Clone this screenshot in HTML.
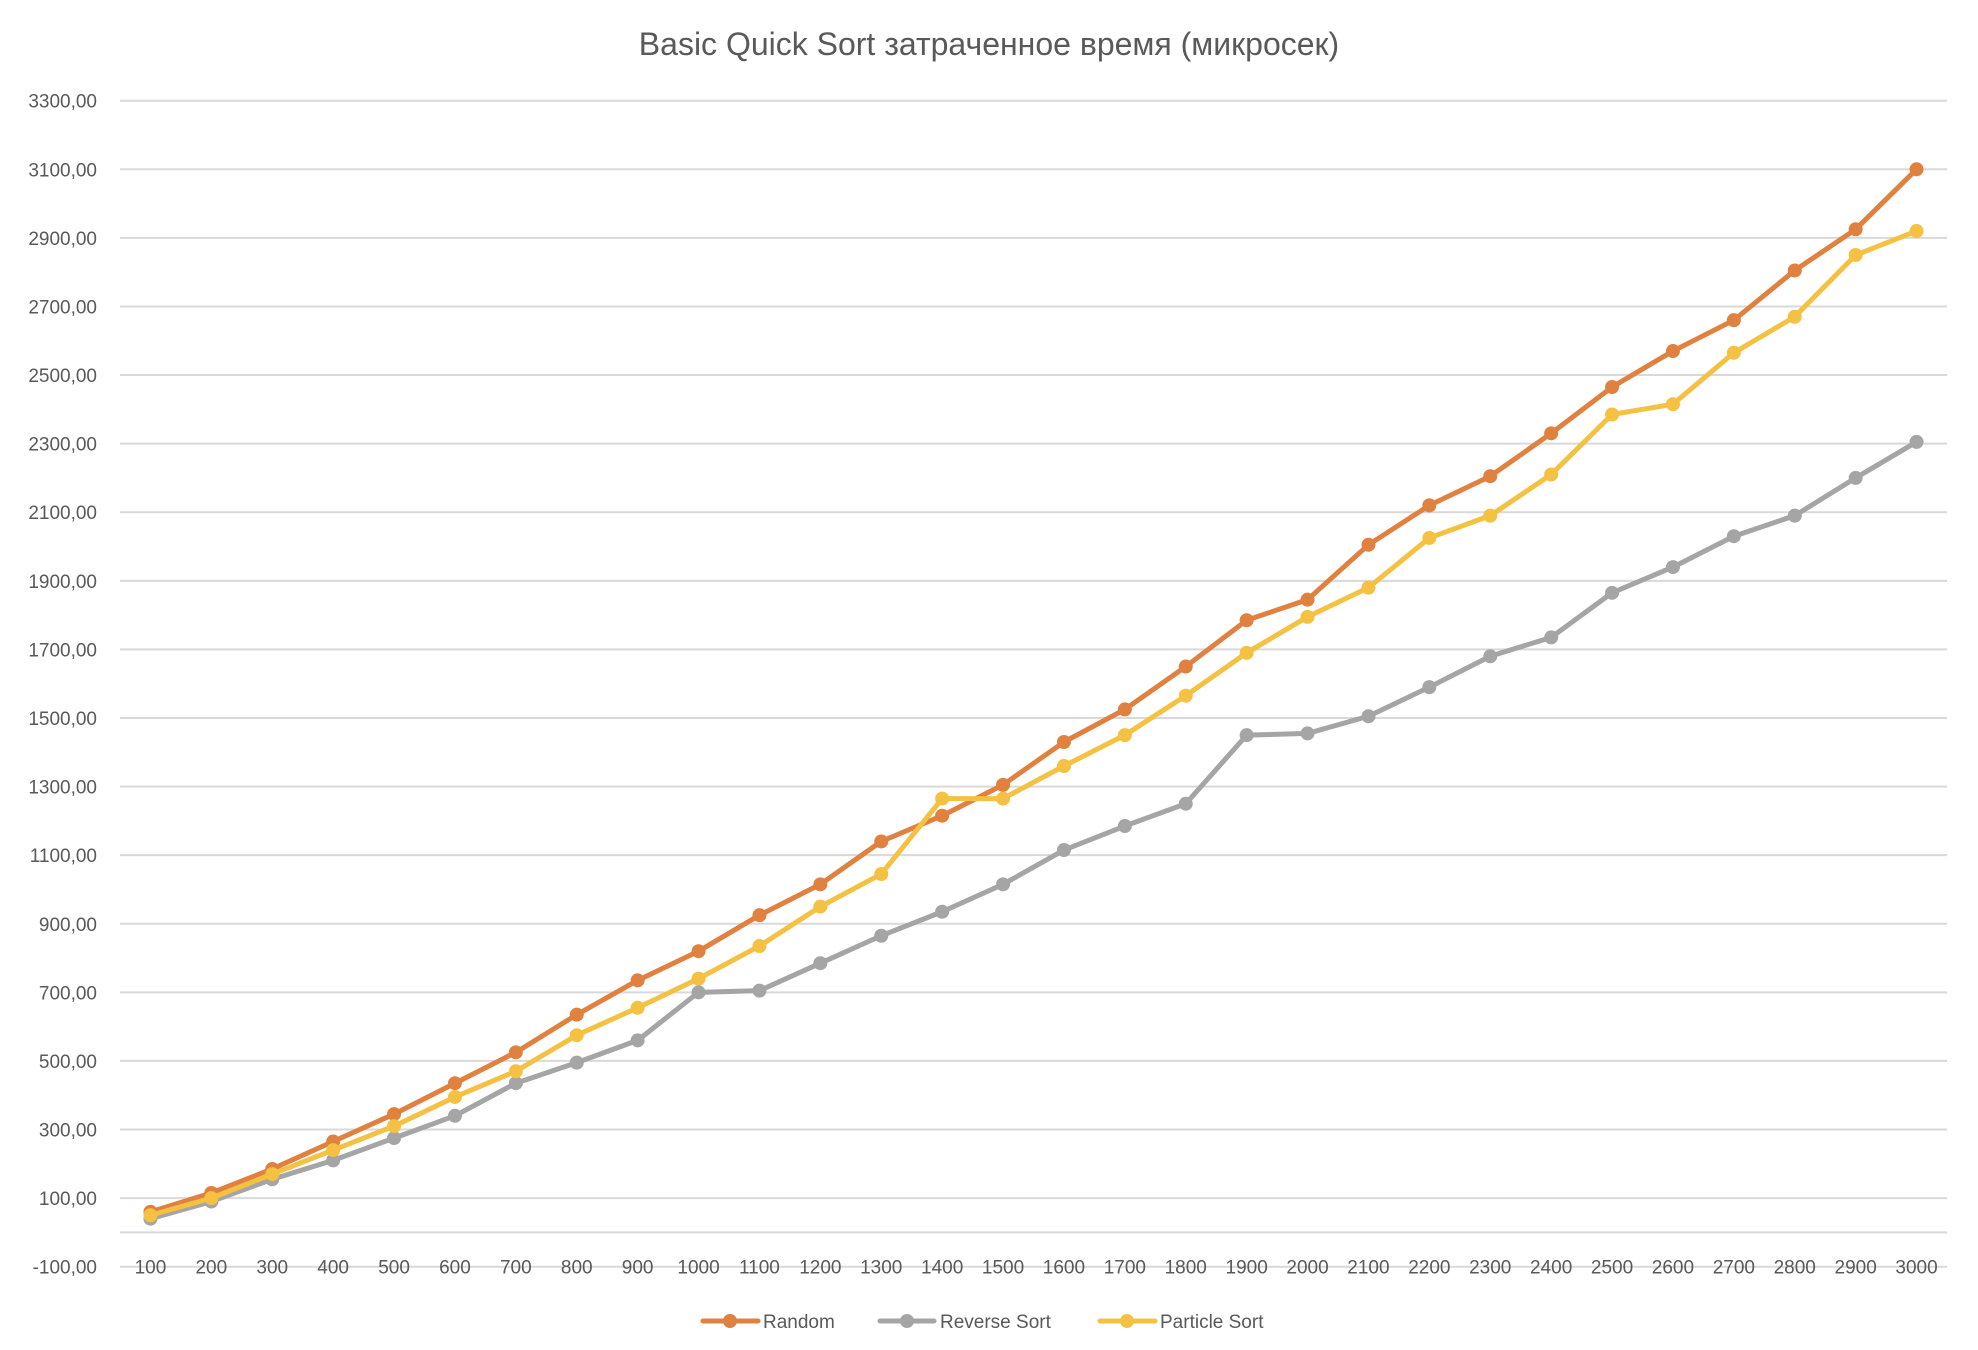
<!DOCTYPE html>
<html><head><meta charset="utf-8"><style>
html,body{margin:0;padding:0;background:#fff;}
svg{display:block;font-family:"Liberation Sans","Noto Sans CJK SC",sans-serif;}
</style></head><body>
<svg id="chart" width="1978" height="1350" viewBox="0 0 1978 1350" xmlns="http://www.w3.org/2000/svg">
<text x="989" y="55" text-anchor="middle" font-size="32" fill="#595959">Basic Quick Sort затраченное время (микросек)</text>
<g id="grid"></g><g id="yticks"></g><g id="xticks"></g><g id="series"></g>
<g>
 <g><line x1="703" y1="1321" x2="758" y2="1321" stroke="#E0813F" stroke-width="5" stroke-linecap="round"/><circle cx="730" cy="1321" r="7" fill="#E0813F"/><text x="763" y="1328" font-size="19" fill="#595959">Random</text></g>
 <g><line x1="880" y1="1321" x2="934" y2="1321" stroke="#A5A5A5" stroke-width="5" stroke-linecap="round"/><circle cx="907" cy="1321" r="7" fill="#A5A5A5"/><text x="940" y="1328" font-size="19" fill="#595959">Reverse Sort</text></g>
 <g><line x1="1100" y1="1321" x2="1155" y2="1321" stroke="#F4C142" stroke-width="5" stroke-linecap="round"/><circle cx="1127" cy="1321" r="7" fill="#F4C142"/><text x="1160" y="1328" font-size="19" fill="#595959">Particle Sort</text></g>
</g>
</svg>
<script>
const categories=[100,200,300,400,500,600,700,800,900,1000,1100,1200,1300,1400,1500,1600,1700,1800,1900,2000,2100,2200,2300,2400,2500,2600,2700,2800,2900,3000];
const randomValues=[60,115,185,265,345,435,525,635,735,820,925,1015,1140,1215,1305,1430,1525,1650,1785,1845,2005,2120,2205,2330,2465,2570,2660,2805,2925,3100];
const reverseValues=[40,90,155,210,275,340,435,495,560,700,705,785,865,935,1015,1115,1185,1250,1450,1455,1505,1590,1680,1735,1865,1940,2030,2090,2200,2305];
const particleValues=[50,100,170,240,310,395,470,575,655,740,835,950,1045,1265,1265,1360,1450,1565,1690,1795,1880,2025,2090,2210,2385,2415,2565,2670,2850,2920];
const yTicks=[-100,100,300,500,700,900,1100,1300,1500,1700,1900,2100,2300,2500,2700,2900,3100,3300];
const yMin=-100,yMax=3300;
const NS="http://www.w3.org/2000/svg";
const L=120,R=1947,T=100.7,B=1266.7;
function yScale(v){return B-(v-yMin)/(yMax-yMin)*(B-T);}
function xScale(i){const bw=(R-L)/categories.length;return L+bw*(i+0.5);}
function mk(tag,attrs,parent){const e=document.createElementNS(NS,tag);for(const k in attrs)e.setAttribute(k,attrs[k]);parent.appendChild(e);return e;}
const grid=document.getElementById('grid'),yt=document.getElementById('yticks'),xt=document.getElementById('xticks'),ser=document.getElementById('series');
yTicks.forEach(v=>{
 const l=mk('line',{x1:L,x2:R,y1:yScale(v),y2:yScale(v),stroke:'#D9D9D9','stroke-width':2},grid);
 
 
});
const ax=mk('line',{x1:L,x2:R,y1:yScale(0),y2:yScale(0),stroke:'#D9D9D9','stroke-width':2},grid);


yTicks.forEach(v=>{
 const t=mk('text',{x:97,y:yScale(v)+7,'text-anchor':'end','font-size':19,fill:'#595959'},yt);
 t.textContent=v.toFixed(2).replace('.',',');
 
 
});
categories.forEach((c,i)=>{
 const t=mk('text',{x:xScale(i),y:B+7,'text-anchor':'middle','font-size':19,fill:'#595959'},xt);
 t.textContent=c;
 
 
});
function drawSeries(vals,color,name){
 const g=mk('g',{},ser);
 
 
 const pts=vals.map((v,i)=>xScale(i)+','+yScale(v)).join(' ');
 const pl=mk('polyline',{points:pts,fill:'none',stroke:color,'stroke-width':5,'stroke-linejoin':'round'},g);
 
 
 vals.forEach((v,i)=>{
  const c=mk('circle',{cx:xScale(i),cy:yScale(v),r:7,fill:color},g);
  
  
 });
}
drawSeries(randomValues,'#E0813F','series-random');
drawSeries(reverseValues,'#A5A5A5','series-reverse-sort');
drawSeries(particleValues,'#F4C142','series-particle-sort');
</script>
</body></html>
